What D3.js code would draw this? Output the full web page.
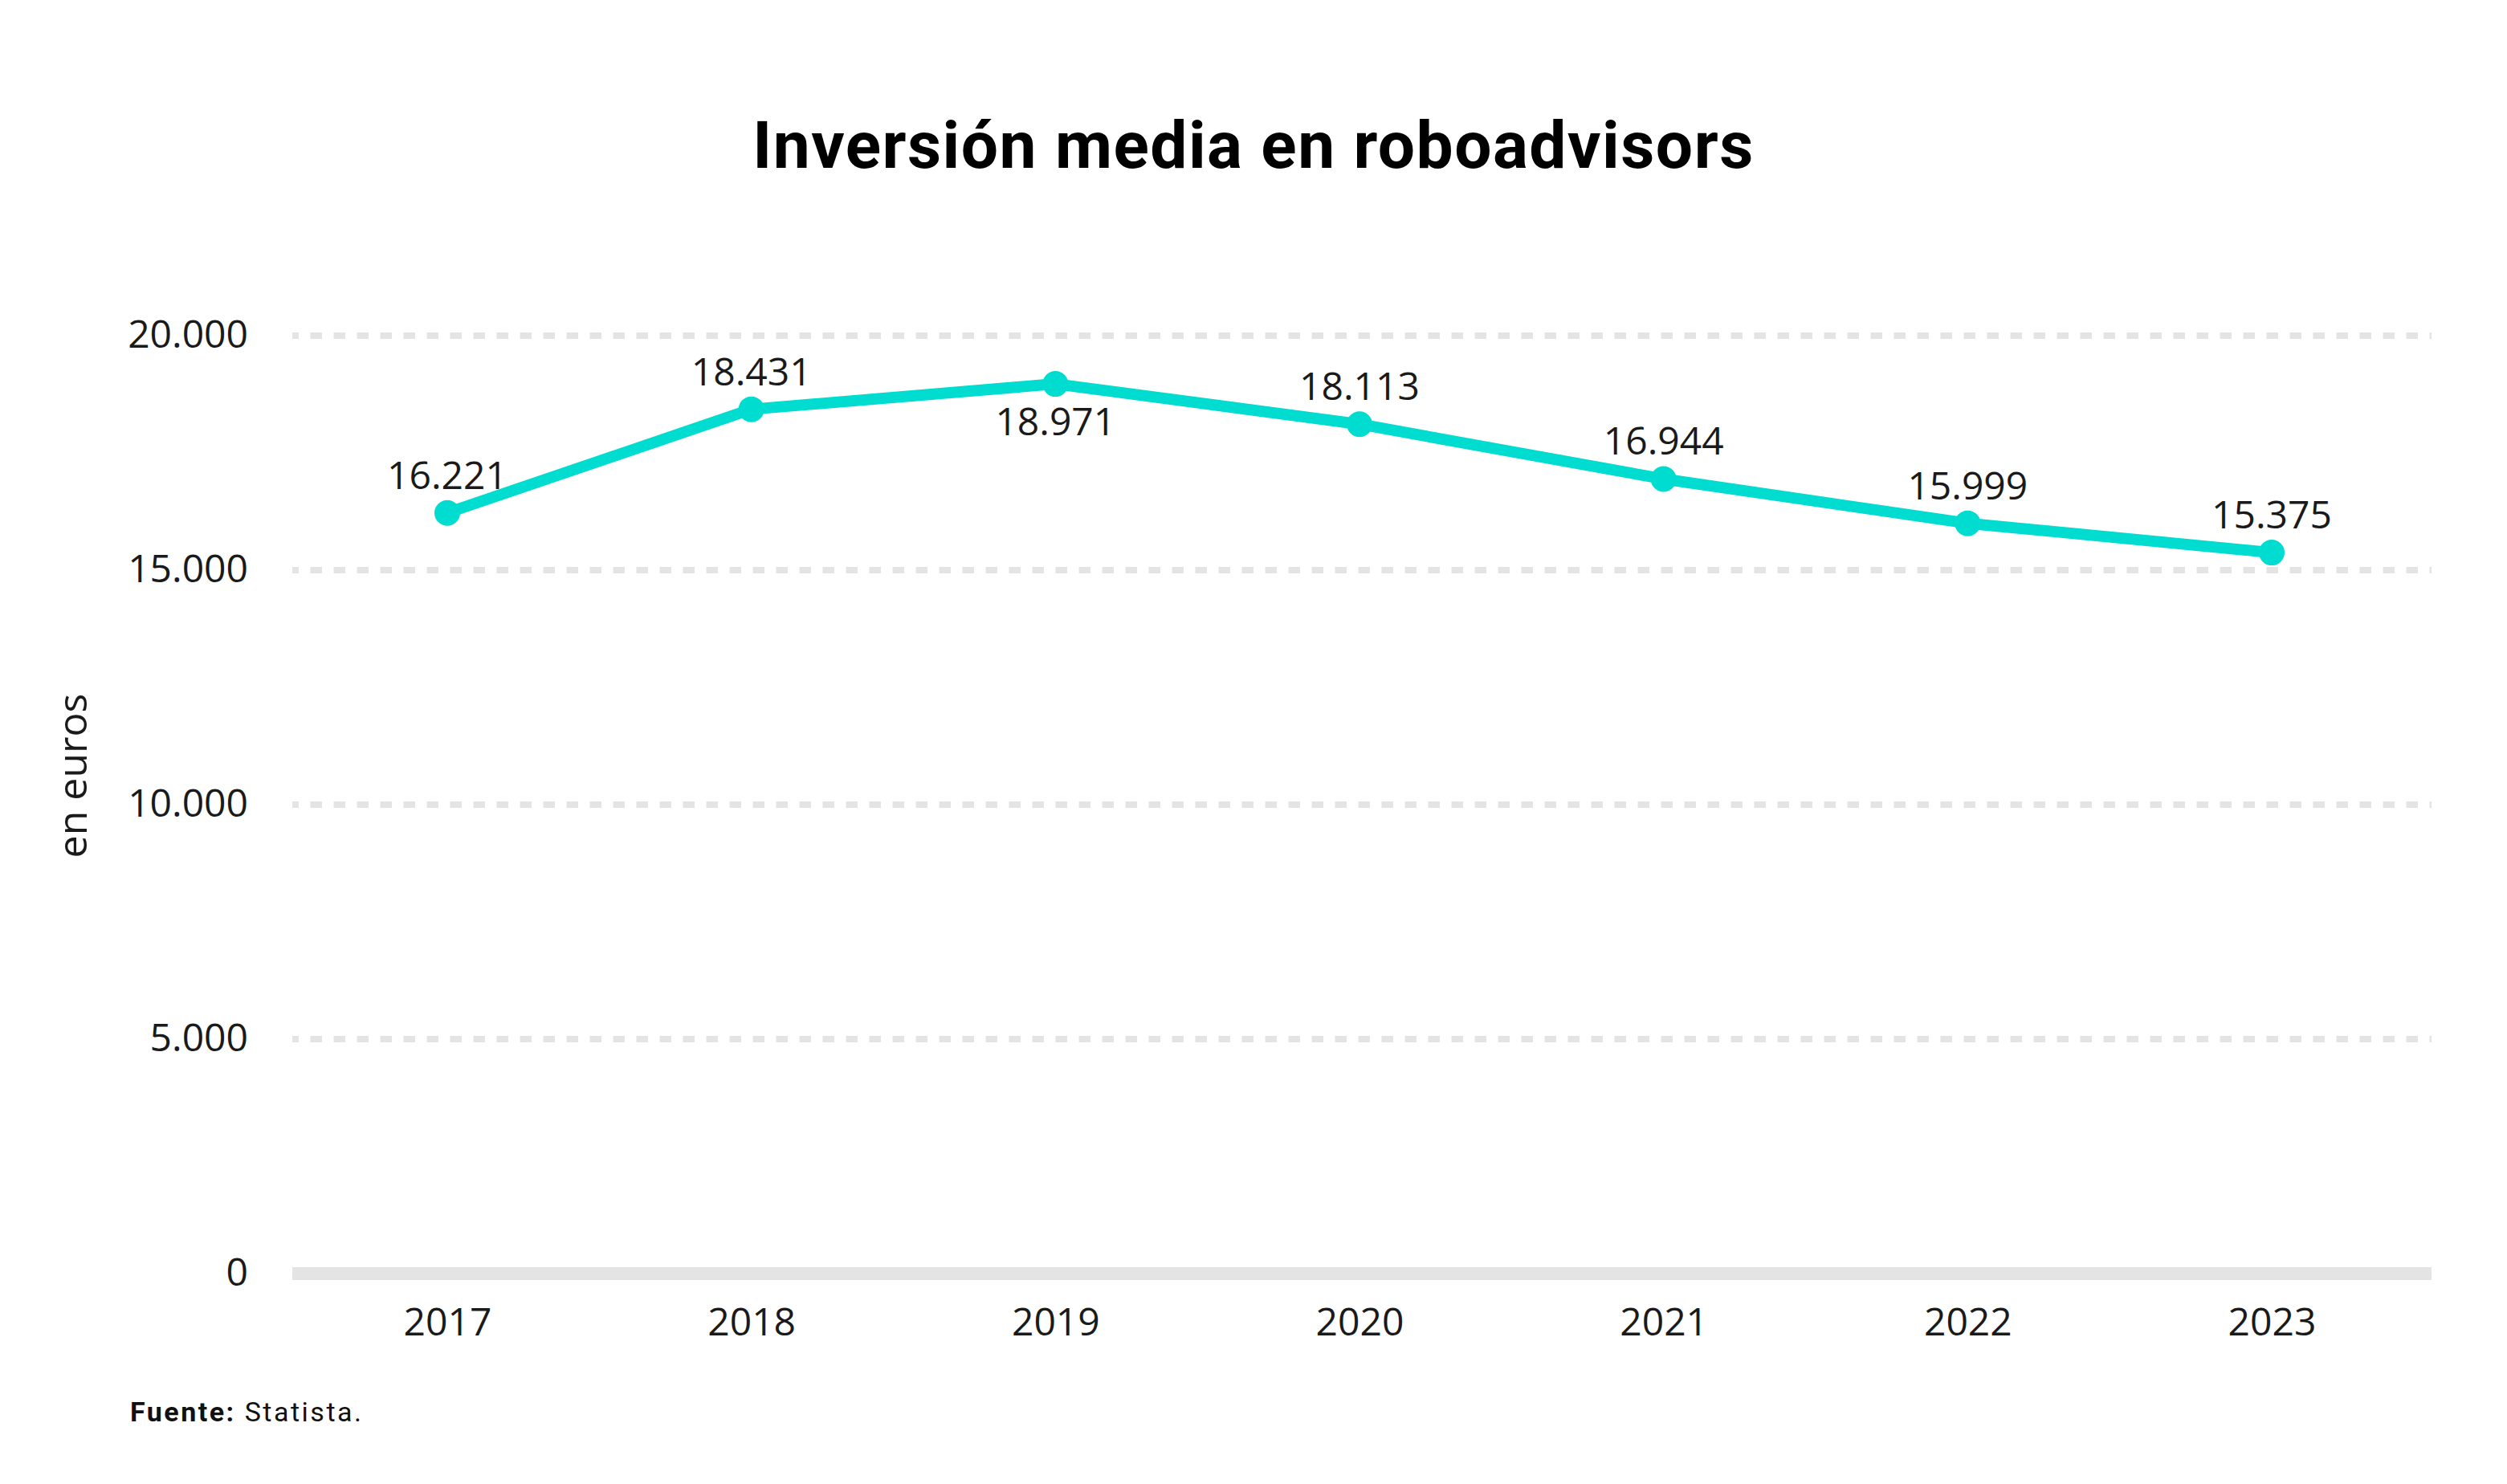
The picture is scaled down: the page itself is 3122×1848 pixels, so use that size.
<!DOCTYPE html>
<html lang="es">
<head>
  <meta charset="UTF-8" />
  <title>Inversión media en roboadvisors</title>
  <script src="https://d3js.org/d3.v7.min.js"></script>
  <style>
    body {
      margin: 0;
      background: #fff;
    }
    svg {
      display: block;
      background: #fff;
    }
    .title {
      font-family: Roboto, "Liberation Sans", sans-serif;
      font-weight: 700;
      font-size: 82px;
      letter-spacing: 1.5px;
      fill: #000;
    }
    .tick text, .value-label, .axis-label {
      font-family: "Open Sans", "Noto Sans", sans-serif;
      font-size: 48px;
      fill: #1a1a1a;
    }
    .axis-label {
      font-size: 50px;
    }
    .source {
      font-family: Roboto, "Liberation Sans", sans-serif;
      font-size: 34px;
      fill: #111;
      letter-spacing: 2.5px;
    }
    .grid {
      stroke: #e4e4e4;
      stroke-width: 8px;
      stroke-dasharray: 14.5 14.5;
      stroke-dashoffset: 6.5;
    }
    .baseline {
      stroke: #e4e4e4;
      stroke-width: 16px;
    }
    .line {
      fill: none;
      stroke: #00dccf;
      stroke-width: 14px;
      stroke-linejoin: round;
    }
  </style>
</head>
<body>
  <svg id="chart"></svg>

  <script>
    // datos
    const years  = ["2017", "2018", "2019", "2020", "2021", "2022", "2023"];
    const values = [16221, 18431, 18971, 18113, 16944, 15999, 15375];
    const yTicks = [0, 5000, 10000, 15000, 20000];

    const W = 3122, H = 1848;
    const plotLeft = 364, plotRight = 3028;
    const yTop = 418, yBottom = 1586;
    const teal = "#00dccf";

    const es = d3.formatLocale({ decimal: ",", thousands: ".", grouping: [3], currency: ["", " €"] });
    const fmt = es.format(",d");

    const svg = d3.select("#chart")
                  .attr("width", W)
                  .attr("height", H);

    const x = d3.scalePoint()
                .domain(years)
                .range([557, 2829]);

    const y = d3.scaleLinear()
                .domain([0, 20000])
                .range([yBottom, yTop]);

    // titulo
    svg.append("text")
       .attr("class", "title")
       .attr("x", W / 2)
       .attr("y", 209)
       .attr("text-anchor", "middle")
       .text("Inversión media en roboadvisors");

    // lineas de rejilla
    svg.append("g")
       .selectAll("line")
       .data(yTicks.filter(d => d > 0))
       .join("line")
         .attr("class", "grid")
         .attr("x1", plotLeft)
         .attr("x2", plotRight)
         .attr("y1", d => y(d))
         .attr("y2", d => y(d));

    svg.append("line")
       .attr("class", "baseline")
       .attr("x1", plotLeft)
       .attr("x2", plotRight)
       .attr("y1", y(0))
       .attr("y2", y(0));

    // eje y
    const yAxis = svg.append("g")
       .attr("transform", `translate(${plotLeft},0)`)
       .call(d3.axisLeft(y).tickValues(yTicks).tickSize(0).tickPadding(55).tickFormat(fmt));
    yAxis.select(".domain").remove();
    yAxis.selectAll("text").attr("dy", "14px").attr("font-size", null).attr("font-family", null);

    // eje x
    const xAxis = svg.append("g")
       .attr("transform", `translate(0,${yBottom})`)
       .call(d3.axisBottom(x).tickSize(0));
    xAxis.select(".domain").remove();
    xAxis.selectAll("text").attr("y", 77).attr("dy", null).attr("font-size", null).attr("font-family", null);

    svg.append("text")
       .attr("class", "axis-label")
       .attr("transform", "rotate(-90)")
       .attr("x", -966)
       .attr("y", 108)
       .attr("text-anchor", "middle")
       .text("en euros");

    // serie
    const data = years.map((yr, i) => ({ year: yr, value: values[i] }));
    const maxVal = d3.max(values);

    const line = d3.line()
                   .x(d => x(d.year))
                   .y(d => y(d.value));

    svg.append("path")
       .datum(data)
       .attr("class", "line")
       .attr("d", line);

    svg.append("g")
       .selectAll("circle")
       .data(data)
       .join("circle")
         .attr("cx", d => x(d.year))
         .attr("cy", d => y(d.value))
         .attr("r", 16)
         .attr("fill", teal);

    svg.append("g")
       .selectAll("text")
       .data(data)
       .join("text")
         .attr("class", "value-label")
         .attr("x", d => x(d.year))
         .attr("y", d => d.value === maxVal ? y(d.value) + 64 : y(d.value) - 30)
         .attr("text-anchor", "middle")
         .text(d => fmt(d.value));

    // fuente
    const src = svg.append("text")
       .attr("class", "source")
       .attr("x", 162)
       .attr("y", 1770);
    src.append("tspan").attr("font-weight", 700).text("Fuente:");
    src.append("tspan").text(" Statista.");
  </script>
</body>
</html>
